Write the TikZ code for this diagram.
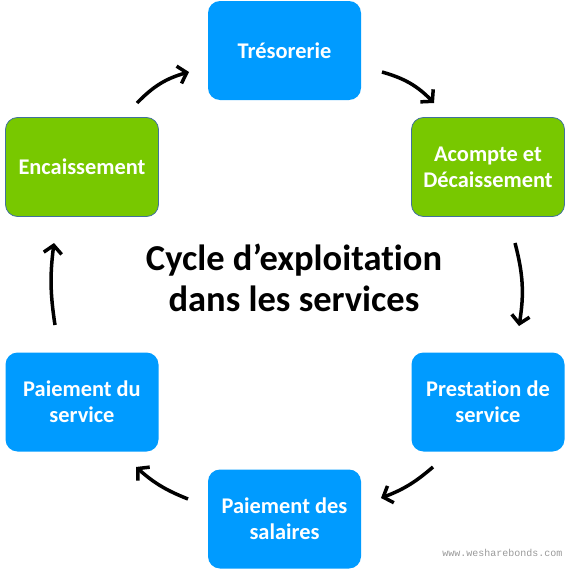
\documentclass[tikz,border=0pt]{standalone}
\usepackage{fontspec}
\setmainfont{Carlito}[Ligatures={NoCommon,NoContextual}]
\setmonofont{Liberation Mono}
\usetikzlibrary{arrows.meta,positioning}

\definecolor{stepblue}{HTML}{009BFF}
\definecolor{stepgreen}{HTML}{78C800}
\definecolor{stepedge}{HTML}{41719C}

\tikzset{
  box/.style={rectangle, rounded corners=12pt, minimum width=153pt,
    minimum height=99pt, align=center, text=white,
    font=\fontsize{22.4}{26}\selectfont\bfseries},
  bluebox/.style={box, fill=stepblue},
  greenbox/.style={box, fill=stepgreen, draw=stepedge, line width=0.8pt},
  flow/.style={-{Straight Barb[length=8pt,width=18pt,line width=3.5pt]},
    line width=3.5pt, black}
}

\begin{document}
\begin{tikzpicture}[x=1pt,y=1pt]
\useasboundingbox (0,0) rectangle (574,-570);
\node[bluebox] (tres) at (284.5,-50.5) {Trésorerie};
\node[greenbox] (acompte) at (488,-167) {Acompte et\\Décaissement};
\node[greenbox] (enc) at (82,-167) {Encaissement};
\node[bluebox] (prest) at (488,-402) {Prestation de\\service};
\node[bluebox] (sal) at (284.5,-519) {Paiement des\\salaires};
\node[bluebox] (pserv) at (82,-402) {Paiement du\\service};
\node[font=\fontsize{36.5}{41}\selectfont\bfseries, align=center] (title)
  at (294,-278) {Cycle d’exploitation\\dans les services};
\node[font=\fontsize{10}{11}\ttfamily, text=gray!80, anchor=east] (mark)
  at (566,-553) {www.wesharebonds.com};
% arrow ends
\coordinate (e1) at (137,-103); \coordinate (t1) at (189,-72);
\coordinate (t2) at (382,-72);  \coordinate (a1) at (434,-103);
\coordinate (a2) at (515,-243); \coordinate (p1) at (519,-326);
\coordinate (p2) at (433,-467); \coordinate (s1) at (381,-498);
\coordinate (s2) at (188,-499); \coordinate (v1) at (136,-467);
\coordinate (v2) at (55,-325);  \coordinate (e2) at (54,-243);
\path[flow] (e1) edge[bend left=15] (t1)
	(t2) edge[bend left=15] (a1)
	(a2) edge[bend left=12] (p1)
	(p2) edge[bend left=10] (s1)
	(s2) edge[bend left=10] (v1)
	(v2) edge[bend left=8] (e2);
\end{tikzpicture}
\end{document}
